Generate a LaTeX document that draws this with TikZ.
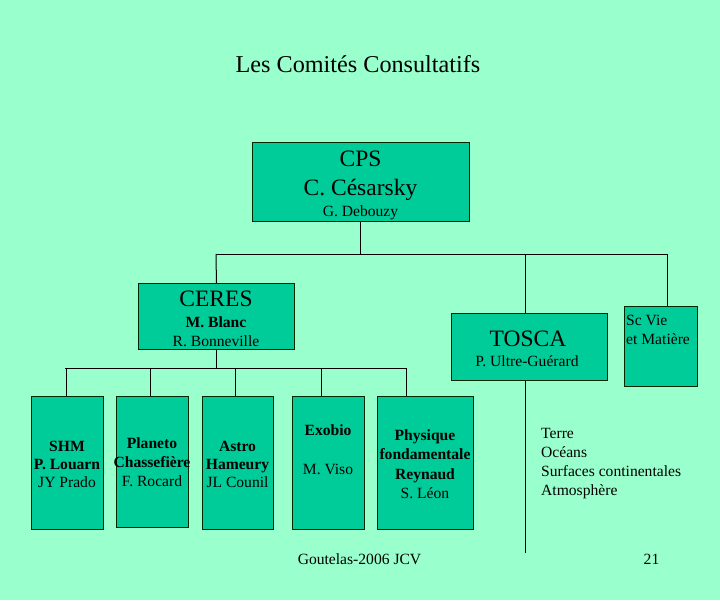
\documentclass[tikz,border=0pt]{standalone}
\usepackage{fontspec}
\setmainfont{Liberation Serif}
\definecolor{bg}{HTML}{99FFCC}
\definecolor{boxfill}{HTML}{00CC99}
\begin{document}
\begin{tikzpicture}[x=1pt,y=-1pt,
  box/.style={draw=black!85!green, fill=boxfill, line width=0.9pt, inner sep=0pt, anchor=north west},
  conn/.style={draw=black, line width=1pt},
  big/.style={font=\fontsize{23.5}{27}\selectfont, inner sep=0pt, anchor=base},
  small/.style={font=\fontsize{15.6}{19}\selectfont, inner sep=0pt, anchor=base},
  smallb/.style={font=\fontsize{15.6}{19}\selectfont\bfseries, inner sep=0pt, anchor=base},
  smallw/.style={font=\fontsize{15.6}{19}\selectfont, inner sep=0pt, anchor=base west},
  ]
\fill[bg] (0,0) rectangle (720,600);
\useasboundingbox (0,0) rectangle (720,600);

% title
\node[big, font=\fontsize{24.2}{28}\selectfont] (title) at (358,72) {Les Comités Consultatifs};

% boxes
\node[box, minimum width=217, minimum height=79] (cps) at (252,142) {};
\node[box, minimum width=156, minimum height=66] (ceres) at (138,283) {};
\node[box, minimum width=156, minimum height=67] (tosca) at (451,313) {};
\node[box, minimum width=73, minimum height=80] (scvie) at (624,306) {};
\node[box, minimum width=72, minimum height=133] (shm) at (31,396) {};
\node[box, minimum width=72, minimum height=131] (planeto) at (116,396) {};
\node[box, minimum width=71, minimum height=133] (astro) at (202,396) {};
\node[box, minimum width=72, minimum height=133] (exobio) at (292,396) {};
\node[box, minimum width=96, minimum height=133] (physique) at (377,396) {};

% bus coordinates
\coordinate (busL) at (216,254);
\coordinate (busR) at (667,254);
\coordinate (tj) at (525,254);
\coordinate (tend) at (525,553);
\coordinate (b2L) at (65,368);
\coordinate (b2R) at (406,368);
\coordinate (d1) at (66,368);
\coordinate (d2) at (150,368);
\coordinate (d3) at (235,368);
\coordinate (d4) at (321,368);
\coordinate (d5) at (406,368);

% connectors
\draw[conn] (cps.south) -- (cps.south |- busL);
\draw[conn] (busL) -- (busR);
\draw[conn] (busL) -- (ceres.north);
\draw[conn] (tj) -- (tj |- tosca.north);
\draw[conn] (tj |- tosca.south) -- (tend);
\draw[conn] (busR) -- (busR |- scvie.north);
\draw[conn] (ceres.south) -- (ceres.south |- b2L);
\draw[conn] (b2L) -- (b2R);
\draw[conn] (d1) -- (d1 |- shm.north);
\draw[conn] (d2) -- (d2 |- planeto.north);
\draw[conn] (d3) -- (d3 |- astro.north);
\draw[conn] (d4) -- (d4 |- exobio.north);
\draw[conn] (d5) -- (d5 |- physique.north);

% CPS text
\node[big] (cps1) at (360.5,166) {CPS};
\node[big] (cps2) at (360.5,195) {C. Césarsky};
\node[small] (cps3) at (360.5,216) {G. Debouzy};

% CERES text
\node[big] (ceres1) at (216,306) {CERES};
\node[smallb] (ceres2) at (216,327) {M. Blanc};
\node[small] (ceres3) at (216,346) {R. Bonneville};

% TOSCA text
\node[big] (tosca1) at (528,346) {TOSCA};
\node[small] (tosca2) at (527,366) {P. Ultre-Guérard};

% Sc Vie text
\node[smallw] (sc1) at (626,325) {Sc Vie};
\node[smallw] (sc2) at (626,344) {et Matière};

% bottom boxes text
\node[smallb] (shm1) at (67,451) {SHM};
\node[smallb] (shm2) at (67,469.5) {P. Louarn};
\node[small] (shm3) at (67,487.5) {JY Prado};

\node[smallb] (pl1) at (152,448) {Planeto};
\node[smallb] (pl2) at (152,467) {Chassefière};
\node[small] (pl3) at (152,486.5) {F. Rocard};

\node[smallb] (as1) at (237.5,451) {Astro};
\node[smallb] (as2) at (237.5,469.5) {Hameury};
\node[small] (as3) at (237.5,487.5) {JL Counil};

\node[smallb] (ex1) at (328,435) {Exobio};
\node[small] (ex2) at (328,474) {M. Viso};

\node[smallb] (ph1) at (425,440) {Physique};
\node[smallb] (ph2) at (425,459) {fondamentale};
\node[smallb] (ph3) at (425,479) {Reynaud};
\node[small] (ph4) at (425,498) {S. Léon};

% right text
\node[smallw] (t1) at (541,438) {Terre};
\node[smallw] (t2) at (541,457) {Océans};
\node[smallw] (t3) at (541,476) {Surfaces continentales};
\node[smallw] (t4) at (541,495) {Atmosphère};

% footer
\node[small] (foot) at (359.5,564) {Goutelas-2006 JCV};
\node[small] (page) at (651.5,564) {21};
\end{tikzpicture}
\end{document}
